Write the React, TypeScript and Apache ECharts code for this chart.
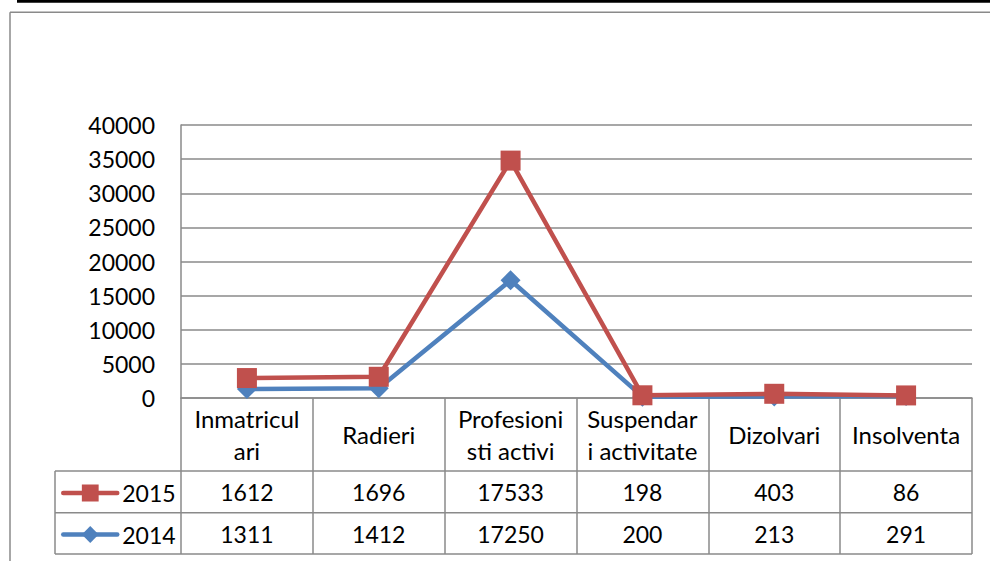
import React, { useEffect, useRef } from "react";
import * as echarts from "echarts";

const CATEGORIES = ["Inmatriculari", "Radieri", "Profesionisti activi", "Suspendari activitate", "Dizolvari", "Insolventa"];
const CATEGORY_LABELS = ["Inmatricul\nari", "Radieri", "Profesioni\nsti activi", "Suspendar\ni activitate", "Dizolvari", "Insolventa"];
const SERIES_NAMES = ["2015", "2014"];
const VALUES_2015 = [1612, 1696, 17533, 198, 403, 86];
const VALUES_2014 = [1311, 1412, 17250, 200, 213, 291];
const Y_MIN = 0;
const Y_MAX = 40000;
const Y_INTERVAL = 5000;

const RED = "#C0504D";
const BLUE = "#4F81BD";
const GRAY = "#8a8a8a";
const FONT = "Lato";

export default function App() {
  const ref = useRef<HTMLDivElement>(null);
  useEffect(() => {
    if (!ref.current) return;
    const chart = echarts.init(ref.current, null, { renderer: "svg" });
    const labelBase = { fontFamily: FONT, fontSize: 23, color: "#000" };
    const valueAxis = (vals: number[], margin: number) => ({
      type: "category",
      data: CATEGORIES,
      position: "bottom",
      gridIndex: 0,
      axisLine: { show: false },
      axisTick: { show: false },
      splitLine: { show: false },
      axisLabel: {
        ...labelBase,
        interval: 0,
        margin,
        verticalAlign: "middle",
        formatter: (_v: string, i: number) => String(vals[i]),
      },
    });
    const legendCommon = {
      left: 61,
      padding: 0,
      itemWidth: 54,
      itemHeight: 21,
      itemGap: 5,
      textStyle: { ...labelBase, lineHeight: 21 },
      lineStyle: { width: 4.5, cap: "round" },
    };
    chart.setOption({
      animation: false,
      backgroundColor: "#fff",
      grid: { left: 181, top: 125, width: 791, height: 273, containLabel: false, outerBoundsMode: "none" },
      legend: [
        { ...legendCommon, data: [SERIES_NAMES[0]], top: 481.5 },
        { ...legendCommon, data: [SERIES_NAMES[1]], top: 523 },
      ],
      xAxis: [
        {
          type: "category",
          data: CATEGORIES,
          boundaryGap: true,
          axisLine: { show: true, lineStyle: { color: GRAY, width: 1.5 } },
          axisTick: { show: true, length: 156, interval: 0, lineStyle: { color: GRAY, width: 1.5 } },
          splitLine: { show: false },
          axisLabel: {
            ...labelBase,
            fontSize: 24,
            interval: 0,
            margin: 36,
            lineHeight: 32,
            verticalAlign: "middle",
            formatter: (v: string) => CATEGORY_LABELS[CATEGORIES.indexOf(v)],
          },
        },
        valueAxis(VALUES_2015, 94),
        valueAxis(VALUES_2014, 135.5),
      ],
      yAxis: {
        type: "value",
        min: Y_MIN,
        max: Y_MAX,
        interval: Y_INTERVAL,
        axisLine: { show: true, lineStyle: { color: GRAY, width: 1.5 } },
        axisTick: { show: false },
        splitLine: { show: true, lineStyle: { color: GRAY, width: 1.5 } },
        axisLabel: { ...labelBase, margin: 26, formatter: (v: number) => String(v) },
      },
      series: [
        {
          name: SERIES_NAMES[1],
          type: "line",
          stack: "total",
          data: VALUES_2014,
          xAxisIndex: 0,
          yAxisIndex: 0,
          symbol: "diamond",
          symbolSize: 20,
          clip: false,
          itemStyle: { color: BLUE },
          lineStyle: { color: BLUE, width: 4.5, cap: "round", join: "round" },
        },
        {
          name: SERIES_NAMES[0],
          type: "line",
          stack: "total",
          data: VALUES_2015,
          xAxisIndex: 0,
          yAxisIndex: 0,
          symbol: "rect",
          symbolSize: 20,
          clip: false,
          itemStyle: { color: RED },
          lineStyle: { color: RED, width: 4.5, cap: "round", join: "round" },
        },
      ],
      graphic: [
        { type: "rect", shape: { x: 17, y: 0, width: 980, height: 2.7 }, style: { fill: "#000" }, silent: true },
        { type: "line", shape: { x1: 10, y1: 12.2, x2: 995, y2: 12.2 }, style: { stroke: GRAY, lineWidth: 1.5 }, silent: true },
        { type: "line", shape: { x1: 10, y1: 12.2, x2: 10, y2: 565 }, style: { stroke: GRAY, lineWidth: 1.5 }, silent: true },
        { type: "line", shape: { x1: 55, y1: 471, x2: 972, y2: 471 }, style: { stroke: GRAY, lineWidth: 1.5 }, silent: true },
        { type: "line", shape: { x1: 55, y1: 512.7, x2: 972, y2: 512.7 }, style: { stroke: GRAY, lineWidth: 1.5 }, silent: true },
        { type: "line", shape: { x1: 55, y1: 554, x2: 972, y2: 554 }, style: { stroke: GRAY, lineWidth: 1.5 }, silent: true },
        { type: "line", shape: { x1: 55, y1: 471, x2: 55, y2: 554 }, style: { stroke: GRAY, lineWidth: 1.5 }, silent: true },
      ],
    });
    return () => chart.dispose();
  }, []);
  return (
    <div
      ref={ref}
      style={{ position: "fixed", left: 0, top: 0, width: 990, height: 561, background: "#fff" }}
    />
  );
}
